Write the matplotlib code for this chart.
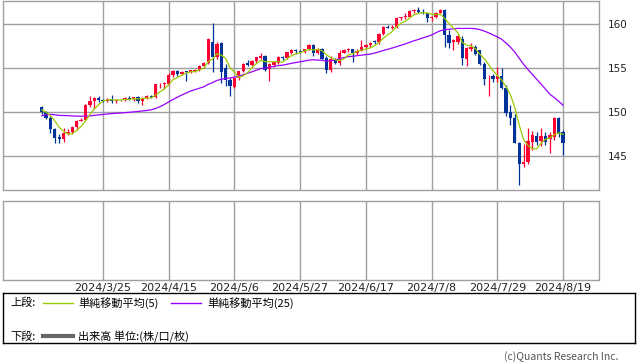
import numpy as np
import pandas as pd
import matplotlib
matplotlib.use('Agg')
import matplotlib.pyplot as plt

plt.rcParams['font.family'] = ['Noto Sans CJK JP', 'DejaVu Sans']

# closes before the first candle (only used for the moving averages)
prior_closes = [146.92, 146.45, 148.38, 148.68, 147.94, 148.17, 149.30, 149.29,
                149.35, 150.81, 150.57, 149.93, 150.22, 150.12, 150.03, 150.28,
                150.51, 150.52, 150.69, 150.49, 150.68, 149.98, 150.11, 150.51]

# daily candles 2024/3/5 - 2024/8/19
opens = [150.55, 150.00, 149.40, 148.05, 147.15, 146.95, 147.65, 147.80, 148.30, 149.05,
         149.15, 150.85, 151.25, 151.60, 151.40, 151.30, 151.55, 151.30, 151.35, 151.40,
         151.65, 151.55, 151.70, 151.30, 151.60, 151.85, 151.75, 153.20, 153.25, 153.25,
         154.20, 154.75, 154.35, 154.65, 154.55, 154.75, 154.85, 155.30, 155.60, 157.95,
         156.30, 157.85, 155.00, 153.70, 152.85, 153.95, 154.65, 155.60, 155.35, 155.80,
         156.20, 156.45, 154.90, 155.35, 155.65, 156.30, 156.20, 156.80, 157.05, 156.95,
         156.90, 157.20, 157.70, 156.80, 157.25, 156.15, 154.85, 156.10, 155.65, 156.75,
         157.05, 157.15, 156.70, 157.00, 157.40, 157.70, 158.10, 157.95, 158.90, 159.75,
         159.65, 159.70, 160.75, 160.85, 160.90, 161.50, 161.60, 161.45, 161.25, 160.75,
         160.85, 161.35, 161.65, 158.85, 158.00, 158.05, 158.40, 156.10, 157.20, 157.40,
         157.05, 155.50, 153.85, 154.10, 153.80, 154.10, 152.75, 150.00, 149.40, 146.55,
         144.10, 144.35, 146.65, 147.30, 146.70, 147.30, 146.90, 147.20, 149.40, 147.75]
highs = [150.75, 150.15, 149.55, 148.20, 147.50, 148.15, 148.05, 148.40, 149.15, 149.35,
         150.95, 151.85, 151.75, 151.85, 151.50, 151.60, 151.95, 151.50, 151.45, 151.75,
         151.80, 151.75, 151.85, 151.75, 151.95, 151.95, 153.25, 153.30, 153.40, 154.45,
         154.80, 154.80, 154.70, 154.70, 154.85, 154.90, 155.40, 155.75, 158.45, 160.20,
         157.95, 157.95, 155.50, 153.90, 154.00, 154.70, 155.65, 155.95, 155.95, 156.25,
         156.75, 156.55, 155.60, 155.80, 156.35, 156.45, 156.90, 157.15, 157.20, 157.10,
         157.25, 157.75, 157.75, 157.30, 157.30, 156.40, 156.45, 156.20, 157.05, 157.25,
         157.35, 157.25, 157.20, 158.25, 157.80, 157.95, 158.20, 159.00, 159.85, 159.95,
         159.90, 160.85, 160.90, 161.25, 161.70, 161.75, 161.95, 161.75, 161.35, 160.95,
         161.45, 161.75, 161.75, 159.40, 158.40, 158.85, 158.70, 157.45, 157.85, 157.70,
         157.10, 155.75, 154.25, 154.35, 155.20, 155.00, 153.05, 150.85, 149.75, 146.65,
         146.40, 148.15, 147.90, 147.80, 148.15, 147.75, 147.70, 149.45, 149.45, 148.00]
lows = [149.85, 149.20, 147.60, 146.50, 146.50, 146.65, 147.35, 147.55, 147.95, 148.95,
        148.95, 150.60, 150.35, 151.15, 151.15, 151.20, 151.05, 151.05, 151.25, 151.30,
        151.45, 151.25, 151.10, 150.80, 151.55, 151.60, 151.65, 152.75, 152.60, 153.10,
        154.05, 154.10, 154.20, 153.60, 154.50, 154.60, 154.70, 155.00, 155.45, 154.55,
        156.10, 153.30, 153.00, 151.85, 152.80, 153.70, 154.55, 155.30, 155.25, 155.65,
        156.10, 154.70, 153.60, 155.20, 155.55, 155.95, 156.10, 156.60, 156.65, 156.75,
        156.70, 157.05, 156.40, 156.60, 156.05, 154.50, 154.60, 155.55, 155.40, 156.70,
        156.90, 155.70, 156.55, 156.95, 157.30, 157.45, 157.75, 157.80, 158.75, 159.55,
        159.50, 159.60, 160.55, 160.60, 160.85, 161.35, 161.30, 161.15, 160.25, 160.45,
        160.70, 161.30, 157.40, 157.35, 157.10, 157.80, 155.40, 155.30, 157.00, 156.55,
        155.40, 153.05, 151.90, 153.45, 153.50, 152.60, 149.60, 148.50, 146.45, 141.70,
        143.75, 144.05, 145.70, 146.25, 146.10, 146.25, 145.30, 146.85, 147.20, 145.10]
closes = [150.00, 149.40, 148.05, 147.05, 146.95, 147.65, 147.80, 148.30, 149.05, 149.15,
          150.85, 151.25, 151.60, 151.40, 151.30, 151.55, 151.30, 151.40, 151.40, 151.65,
          151.55, 151.70, 151.30, 151.60, 151.85, 151.75, 153.20, 153.25, 153.30, 154.20,
          154.70, 154.35, 154.60, 154.55, 154.80, 154.85, 155.30, 155.60, 158.30, 156.30,
          157.80, 154.55, 153.65, 153.00, 153.90, 154.65, 155.55, 155.40, 155.85, 156.25,
          156.45, 154.85, 155.45, 155.75, 156.30, 156.15, 156.85, 157.05, 156.95, 156.90,
          157.15, 157.70, 156.80, 157.25, 156.10, 154.85, 156.10, 155.65, 156.75, 157.05,
          157.15, 156.70, 157.00, 157.40, 157.70, 157.85, 157.95, 158.90, 159.75, 159.65,
          159.70, 160.75, 160.85, 160.90, 161.50, 161.60, 161.45, 161.25, 160.75, 160.85,
          161.35, 161.65, 158.80, 157.85, 158.25, 158.65, 156.15, 157.35, 157.40, 156.65,
          155.50, 153.75, 153.95, 153.75, 154.10, 152.75, 149.95, 149.35, 146.55, 144.15,
          144.35, 146.70, 147.40, 146.60, 147.30, 146.60, 147.40, 149.40, 147.55, 146.45]

tick_pos = [14, 29, 44, 59, 74, 89, 104, 119]
tick_labels = ['2024/3/25', '2024/4/15', '2024/5/6', '2024/5/27',
               '2024/6/17', '2024/7/8', '2024/7/29', '2024/8/19']
price_ticks = [145, 150, 155, 160]

RED = '#ff0033'
BLUE = '#003399'
GREEN = '#99cc00'
PURPLE = '#9900ff'
GRID = '#a0a0a0'

o = np.array(opens)
h = np.array(highs)
l = np.array(lows)
c = np.array(closes)
x = np.arange(len(c))

allc = pd.Series(prior_closes + closes)
ma5 = allc.rolling(5).mean().values[len(prior_closes):]
ma25 = allc.rolling(25).mean().values[len(prior_closes):]

W, H = 638, 362
fig = plt.figure(figsize=(W / 100, H / 100), dpi=100)
ax1 = fig.add_axes([3 / W, 1 - 190 / H, 595.5 / W, 189.5 / H])
ax2 = fig.add_axes([3 / W, 1 - 280 / H, 595.5 / W, 79 / H])

# candles
cols = np.where(c >= o, RED, BLUE)
ax1.vlines(x, l, h, colors=cols, lw=0.9, zorder=2)
ax1.bar(x, np.maximum(np.abs(c - o), 0.06), bottom=np.minimum(o, c),
        width=0.75, color=cols, lw=0, zorder=3)
ax1.plot(x, ma25, color=PURPLE, lw=0.9, zorder=4)
ax1.plot(x, ma5, color=GREEN, lw=0.9, zorder=5)

for ax in (ax1, ax2):
    ax.set_xlim(-8.83, 127.1)
    ax.set_xticks(tick_pos)
    ax.grid(True, color=GRID, lw=1)
    ax.set_axisbelow(True)
    for s in ax.spines.values():
        s.set_color(GRID)
        s.set_linewidth(1)

ax1.set_ylim(141.14, 162.73)
ax1.set_yticks(price_ticks)
ax1.set_yticklabels([str(v) for v in price_ticks], family='DejaVu Sans')
ax1.yaxis.tick_right()
ax1.tick_params(axis='y', length=0, pad=7, labelsize=7.5, colors='#222222')
ax1.tick_params(axis='x', length=0, labelbottom=False)

ax2.set_yticks([])
ax2.grid(False, axis='y')
ax2.set_xticklabels(tick_labels, family='DejaVu Sans')
ax2.tick_params(axis='x', length=0, pad=2, labelsize=8, colors='#222222')

# legend box
ax3 = fig.add_axes([3 / W, 1 - 343 / H, 632 / W, 50 / H])
ax3.set_xlim(0, 632)
ax3.set_ylim(50, 0)
ax3.set_xticks([])
ax3.set_yticks([])
for s in ax3.spines.values():
    s.set_color('black')
    s.set_linewidth(1)
ax3.text(7, 10, '上段:', fontsize=8, va='center')
ax3.plot([40, 70], [9.5, 9.5], color=GREEN, lw=1)
ax3.text(75, 10, '単純移動平均(5)', fontsize=8, va='center')
ax3.plot([168, 198], [9.5, 9.5], color=PURPLE, lw=1)
ax3.text(204, 10, '単純移動平均(25)', fontsize=8, va='center')
ax3.text(7, 43.5, '下段:', fontsize=8, va='center')
ax3.plot([40, 70], [43, 43], color='#666666', lw=3)
ax3.text(75, 43.5, '出来高 単位:(株/口/枚)', fontsize=8, va='center')

fig.text(618 / W, 1 - 357 / H, '(c)Quants Research Inc.', ha='right',
         va='center', fontsize=7.5, color='#555555')

fig.savefig('out.png', dpi=100)
